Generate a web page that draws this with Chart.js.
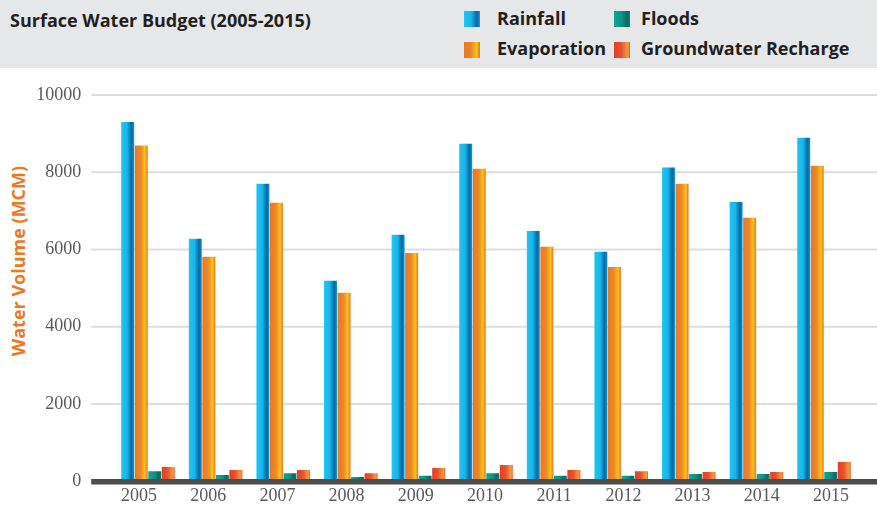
<!DOCTYPE html>
<html>
<head>
<meta charset="utf-8">
<title>Surface Water Budget (2005-2015)</title>
<script src="https://cdn.jsdelivr.net/npm/chart.js@4.4.0/dist/chart.umd.min.js"></script>
<style>
  html, body { margin: 0; padding: 0; background: #fff; }
  #wrap { position: relative; width: 877px; height: 506px; overflow: hidden; font-family: 'Open Sans', sans-serif; }
  #header { position: absolute; left: 0; top: 0; width: 877px; height: 68px; background: #e6e7e8; }
  #title { position: absolute; left: 10px; top: 11px; font-size: 18px; line-height: 18px; font-weight: 700; color: #231f20; white-space: nowrap; }
  .swatch { position: absolute; width: 16px; height: 16px; }
  .label { position: absolute; font-size: 18px; line-height: 18px; font-weight: 700; color: #231f20; white-space: nowrap; }
  #ytitle { position: absolute; left: 18px; top: 261px; transform: translate(-50%, -50%) rotate(-90deg);
            font-size: 18px; line-height: 18px; font-weight: 700; color: #e87a25; white-space: nowrap; }
  #chartBox { position: absolute; left: 0; top: 0; width: 877px; height: 506px; }
</style>
</head>
<body>
<div id="wrap">
  <div id="header">
    <div id="title">Surface Water Budget (2005-2015)</div>
  </div>
  <div id="legend"></div>
  <div id="ytitle">Water Volume (MCM)</div>
  <div id="chartBox"><canvas id="budgetChart"></canvas></div>
</div>
<script>
// valores anuais em milhões de m³
const years = ['2005', '2006', '2007', '2008', '2009', '2010', '2011', '2012', '2013', '2014', '2015'];
const rainfall = [9300, 6280, 7700, 5190, 6380, 8740, 6480, 5940, 8120, 7230, 8890];
const evaporation = [8690, 5810, 7210, 4880, 5910, 8090, 6070, 5550, 7700, 6820, 8170];
const floods = [260, 160, 210, 110, 140, 210, 140, 140, 190, 190, 240];
const recharge = [370, 290, 290, 210, 340, 420, 290, 260, 240, 240, 500];
const seriesNames = ['Rainfall', 'Evaporation', 'Floods', 'Groundwater Recharge'];
const yTicks = [0, 2000, 4000, 6000, 8000, 10000];

// gradientes horizontais de cada série
const stops = {
  rain: [[0, '#20c4f4'], [0.45, '#18b7e9'], [0.62, '#0c90c9'], [0.78, '#0469a3'], [0.9, '#0a7db9'], [1, '#17a3dc']],
  evap: [[0, '#e8772a'], [0.45, '#ec8826'], [0.65, '#f6a91f'], [0.78, '#fec418'], [0.88, '#f3a01d'], [1, '#e5742a']],
  flood: [[0, '#12a693'], [0.5, '#0f9383'], [0.8, '#0a6b60'], [1, '#0c7f6f']],
  recharge: [[0, '#e23e2a'], [0.45, '#e6522c'], [0.75, '#f08a3a'], [0.88, '#f29b40'], [1, '#e4572b']]
};
const flat = { rain: '#18b7e9', evap: '#ec8826', flood: '#0f9383', recharge: '#e6522c' };

function barGradient(key) {
  return (ctx) => {
    const el = ctx.element;
    if (!el || el.x == null || !el.width) return flat[key];
    const g = ctx.chart.ctx.createLinearGradient(el.x - el.width / 2, 0, el.x + el.width / 2, 0);
    stops[key].forEach(s => g.addColorStop(s[0], s[1]));
    return g;
  };
}

function cssGradient(key) {
  return 'linear-gradient(to right, ' + stops[key].map(s => s[1] + ' ' + (s[0] * 100) + '%').join(', ') + ')';
}

// legenda em duas colunas: Rainfall / Floods em cima, Evaporation / Recharge em baixo
const legendSlots = [
  { key: 'rain', name: seriesNames[0], box: [464, 11], text: [497, 9] },
  { key: 'flood', name: seriesNames[2], box: [614, 11], text: [641, 9] },
  { key: 'evap', name: seriesNames[1], box: [464, 42], text: [497, 39] },
  { key: 'recharge', name: seriesNames[3], box: [614, 42], text: [641, 39] }
];
const legendEl = document.getElementById('legend');
legendSlots.forEach(item => {
  const sw = document.createElement('div');
  sw.className = 'swatch';
  sw.style.left = item.box[0] + 'px';
  sw.style.top = item.box[1] + 'px';
  sw.style.background = cssGradient(item.key);
  const lb = document.createElement('div');
  lb.className = 'label';
  lb.style.left = item.text[0] + 'px';
  lb.style.top = item.text[1] + 'px';
  lb.textContent = item.name;
  legendEl.appendChild(sw);
  legendEl.appendChild(lb);
});

// linhas de grade longas, eixo base escuro e faixa própria para os anos
const gridPlugin = {
  id: 'budgetGrid',
  afterLayout(chart) {
    // os rótulos dos anos ficam num eixo um pouco mais largo que a área das barras
    const s = chart.scales.years;
    const a = chart.chartArea;
    s.left = a.left - 9.8;
    s.right = a.right + 7.8;
    s.width = s.right - s.left;
    s.configure();
    s._labelItems = null;
  },
  beforeDatasetsDraw(chart) {
    const c = chart.ctx;
    const y = chart.scales.y;
    const x0 = chart.chartArea.left - 23;
    c.save();
    c.strokeStyle = '#dddddd';
    c.lineWidth = 2.2;
    yTicks.forEach(v => {
      if (v === 0) return;
      const py = y.getPixelForValue(v);
      c.beginPath();
      c.moveTo(x0, py);
      c.lineTo(chart.width, py);
      c.stroke();
    });
    c.restore();
  },
  afterDatasetsDraw(chart) {
    const c = chart.ctx;
    const y0 = chart.scales.y.getPixelForValue(0);
    const x0 = chart.chartArea.left - 23;
    c.save();
    c.fillStyle = '#4d4d4f';
    c.fillRect(x0, y0 - 2.25, chart.width - x0, 5.5);
    c.restore();
  }
};

const tickFont = { family: "'Liberation Serif', serif", size: 18 };

const chart = new Chart(document.getElementById('budgetChart'), {
  type: 'bar',
  data: {
    labels: years,
    datasets: [
      { label: seriesNames[0], data: rainfall, backgroundColor: barGradient('rain') },
      { label: seriesNames[1], data: evaporation, backgroundColor: barGradient('evap') },
      { label: seriesNames[2], data: floods, backgroundColor: barGradient('flood') },
      { label: seriesNames[3], data: recharge, backgroundColor: barGradient('recharge') }
    ]
  },
  options: {
    responsive: true,
    maintainAspectRatio: false,
    animation: false,
    layout: { padding: { top: 95, right: 19.2, bottom: 0, left: 0 } },
    datasets: { bar: { categoryPercentage: 0.8, barPercentage: 0.96, borderWidth: 0 } },
    plugins: {
      legend: { display: false },
      tooltip: { enabled: false }
    },
    scales: {
      x: {
        display: false
      },
      years: {
        type: 'category',
        labels: years,
        position: 'bottom',
        offset: true,
        grid: { display: false, drawTicks: false },
        border: { display: false },
        ticks: { font: tickFont, color: '#58595b', padding: 4, maxRotation: 0, autoSkip: false },
        afterFit(scale) { scale.height = 24.75; }
      },
      y: {
        min: 0,
        max: 10000,
        grid: { display: false, drawTicks: false },
        border: { display: false },
        ticks: {
          stepSize: 2000,
          font: tickFont,
          color: '#58595b',
          padding: 33,
          callback: v => String(v)
        },
        afterFit(scale) {
          // largura fixa do eixo; sem folga vertical extra vinda do padding dos rótulos
          scale.width = 114.2;
          scale.paddingTop = 0;
          scale.paddingBottom = 0;
        }
      }
    }
  },
  plugins: [gridPlugin]
});

// segunda passagem para os gradientes usarem a posição real das barras
chart.update('none');
</script>
</body>
</html>
